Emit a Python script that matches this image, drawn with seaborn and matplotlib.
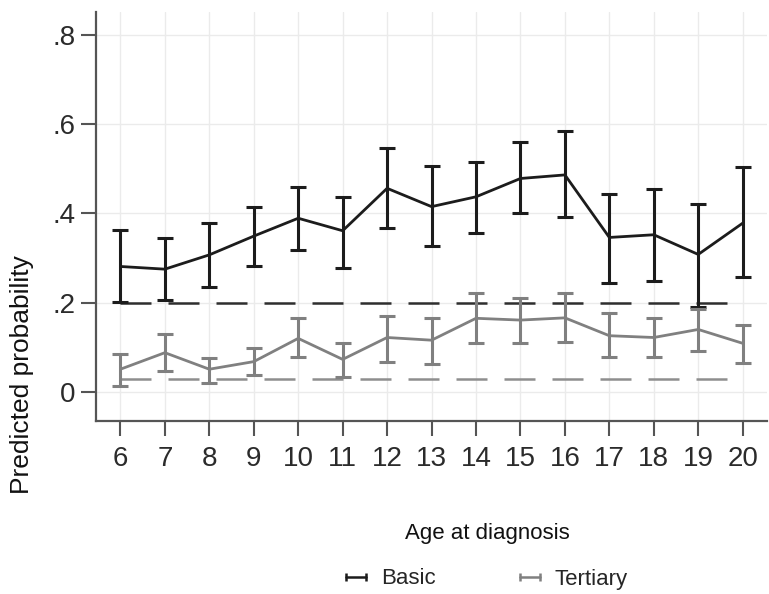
import numpy as np
import pandas as pd
import matplotlib
matplotlib.use('Agg')
import matplotlib.pyplot as plt
import seaborn as sns
from matplotlib.lines import Line2D

# Predicted probabilities with 95% CI
ages = [6, 7, 8, 9, 10, 11, 12, 13, 14, 15, 16, 17, 18, 19, 20]

basic_mean = [0.281, 0.275, 0.307, 0.349, 0.389, 0.361, 0.456, 0.415, 0.437, 0.478, 0.486, 0.346, 0.352, 0.308, 0.378]
basic_lo = [0.201, 0.206, 0.234, 0.282, 0.317, 0.277, 0.368, 0.327, 0.357, 0.400, 0.391, 0.245, 0.249, 0.191, 0.258]
basic_hi = [0.363, 0.344, 0.379, 0.414, 0.459, 0.436, 0.547, 0.505, 0.516, 0.559, 0.585, 0.443, 0.454, 0.421, 0.503]

tertiary_mean = [0.051, 0.088, 0.051, 0.068, 0.120, 0.073, 0.122, 0.116, 0.165, 0.161, 0.166, 0.126, 0.122, 0.140, 0.109]
tertiary_lo = [0.013, 0.048, 0.021, 0.038, 0.078, 0.033, 0.068, 0.062, 0.109, 0.109, 0.113, 0.078, 0.079, 0.092, 0.066]
tertiary_hi = [0.085, 0.130, 0.077, 0.099, 0.165, 0.109, 0.171, 0.166, 0.222, 0.211, 0.221, 0.176, 0.166, 0.185, 0.150]

# reference (dashed) levels
basic_ref = 0.2
tertiary_ref = 0.03

groups = ['Basic', 'Tertiary']
colors = {'Basic': '#1c1c1c', 'Tertiary': '#808080'}
ref_colors = {'Basic': '#2e2e2e', 'Tertiary': '#8e8e8e'}

df = pd.concat([
    pd.DataFrame({'age': ages, 'mean': basic_mean, 'lo': basic_lo, 'hi': basic_hi, 'group': 'Basic'}),
    pd.DataFrame({'age': ages, 'mean': tertiary_mean, 'lo': tertiary_lo, 'hi': tertiary_hi, 'group': 'Tertiary'}),
], ignore_index=True)
refs = {'Basic': basic_ref, 'Tertiary': tertiary_ref}

sns.set_style('white')
plt.rcParams['font.family'] = ['Liberation Sans', 'DejaVu Sans']

fig = plt.figure(figsize=(7.69, 5.94), dpi=100)
ax = fig.add_axes([0.1248, 0.2912, 0.8722, 0.6888])

# dashed reference lines
for g in groups:
    ax.hlines(refs[g], min(ages), max(ages), color=ref_colors[g], lw=1.8,
              linestyles=(0, (12.4, 6.8)), zorder=2)

# mean lines
sns.lineplot(data=df, x='age', y='mean', hue='group', palette=colors, lw=2,
             legend=False, ax=ax, zorder=3)

# confidence interval bars
for g in groups:
    d = df[df['group'] == g]
    yerr = [d['mean'] - d['lo'], d['hi'] - d['mean']]
    ax.errorbar(d['age'], d['mean'], yerr=yerr, fmt='none', ecolor=colors[g],
                elinewidth=2.2, capsize=5.8, capthick=2.2, zorder=4)

ax.set_xlim(5.45, 20.54)
ax.set_ylim(-0.065, 0.851)
ax.set_xticks(ages)
ax.set_yticks([0, 0.2, 0.4, 0.6, 0.8])
ax.set_yticklabels(['0', '.2', '.4', '.6', '.8'])

ax.grid(True, color='#ebebeb', lw=1)
ax.set_axisbelow(True)
for s in ['top', 'right']:
    ax.spines[s].set_visible(False)
for s in ['left', 'bottom']:
    ax.spines[s].set_color('#555555')
    ax.spines[s].set_linewidth(1.6)

ax.tick_params(bottom=True, left=True, direction='out', length=11, width=1.5,
               color='#555555', labelsize=20, labelcolor='#2b2b2b')
ax.tick_params(axis='x', pad=7)
ax.tick_params(axis='y', pad=4)

ax.set_xlabel('Age at diagnosis', fontsize=16, color='#111111', va='center')
ax.xaxis.set_label_coords(0.583, -0.274)
ax.set_ylabel('')
fig.text(10 / 769, 0.3695, 'Predicted probability', rotation=90, ha='left', va='center',
         fontsize=19, color='#111111')

handles = [Line2D([0], [0], color=colors[g], lw=1.8, marker='|', markersize=6,
                  markeredgewidth=1.8) for g in groups]
fig.legend(handles, groups, loc='center', bbox_to_anchor=(483.5 / 769, 1 - 579 / 594),
           ncol=2, frameon=False, fontsize=16, numpoints=2, handlelength=1.5,
           handletextpad=0.375, columnspacing=3.5)

fig.savefig('out.png', dpi=100)
